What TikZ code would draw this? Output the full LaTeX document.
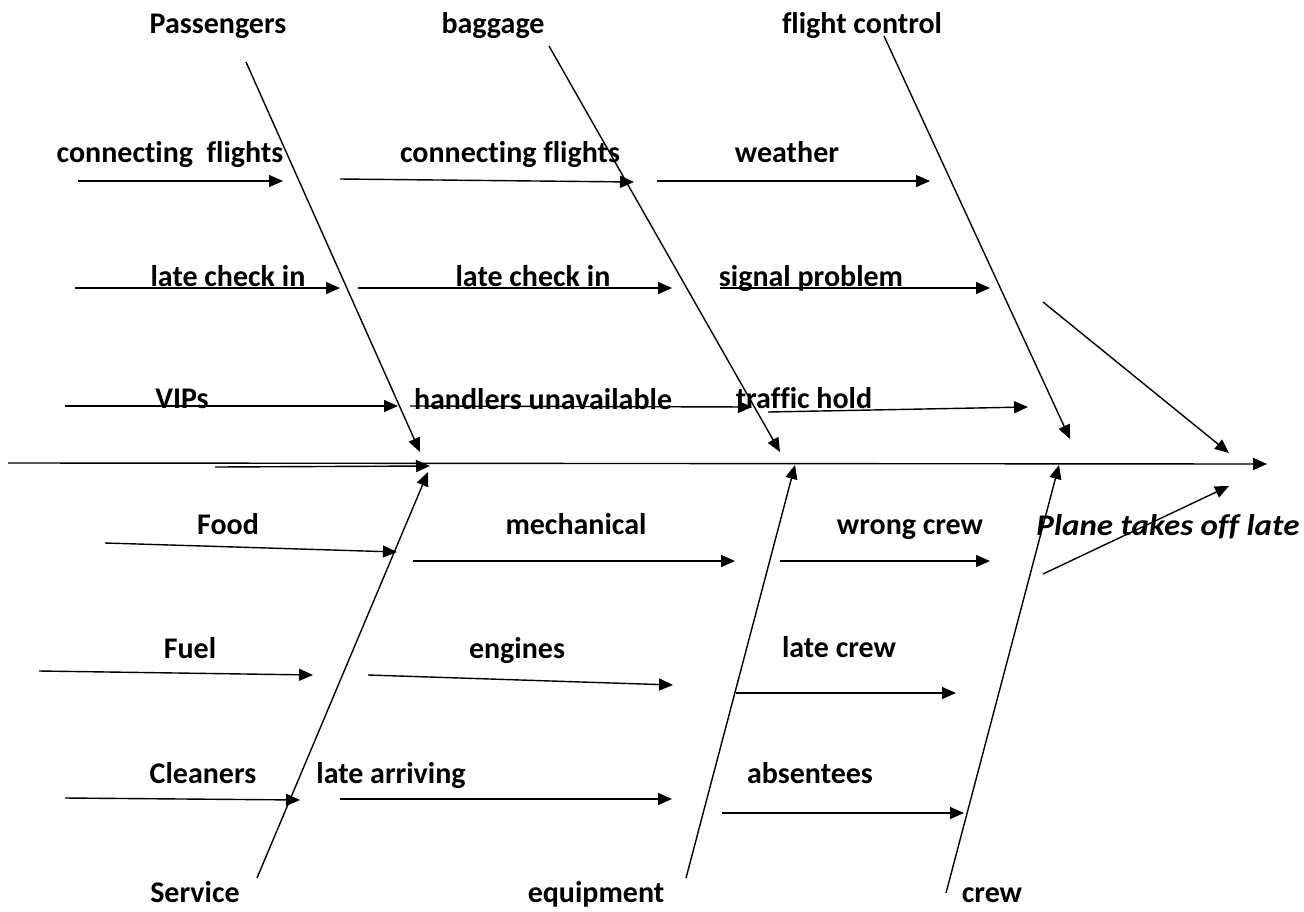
\documentclass[tikz,border=0pt]{standalone}
\usepackage{fontspec}
\setmainfont{Carlito}[Ligatures={NoCommon}]
\usetikzlibrary{arrows.meta}
\begin{document}
\begin{tikzpicture}[x=1pt,y=-1pt,
  arr/.style={line width=1.4pt,-{Triangle[length=14pt,width=12pt]}},
  lbl/.style={anchor=base,inner sep=0pt,font=\fontsize{30}{32}\selectfont\bfseries},
  eff/.style={anchor=base,inner sep=0pt,xscale=1.1,font=\fontsize{30}{32}\selectfont\bfseries\itshape}]
\useasboundingbox (0,0) rectangle (1304,911);
% coordinates
\coordinate (S0) at (8,463);   \coordinate (S1) at (1267,464);
\coordinate (SS0) at (215,467); \coordinate (SS1) at (430,466);
\coordinate (P0) at (246,62);  \coordinate (P1) at (420,452);
\coordinate (B0) at (549,46);  \coordinate (B1) at (780,452);
\coordinate (F0) at (884,36);  \coordinate (F1) at (1070,439);
\coordinate (M0) at (1043,302); \coordinate (M1) at (1229,453);
\coordinate (V0) at (257,878); \coordinate (V1) at (428,472);
\coordinate (E0) at (686,878); \coordinate (E1) at (795,465);
\coordinate (C0) at (946,893); \coordinate (C1) at (1059,465);
\coordinate (N0) at (1043,574); \coordinate (N1) at (1229,486);
% rows
\coordinate (a1) at (78,181);  \coordinate (a2) at (283,181);
\coordinate (b1) at (340,179); \coordinate (b2) at (634,182);
\coordinate (c1) at (657,181); \coordinate (c2) at (930,181);
\coordinate (d1) at (75,288);  \coordinate (d2) at (340,288);
\coordinate (e1) at (358,288); \coordinate (e2) at (672,288);
\coordinate (f1) at (720,288); \coordinate (f2) at (990,288);
\coordinate (g1) at (65,406);  \coordinate (g2) at (398,406);
\coordinate (h1) at (410,406); \coordinate (h2) at (752,407);
\coordinate (i1) at (768,412); \coordinate (i2) at (1028,407);
\coordinate (j1) at (105,543); \coordinate (j2) at (397,552);
\coordinate (k1) at (413,561); \coordinate (k2) at (735,561);
\coordinate (l1) at (780,561); \coordinate (l2) at (990,561);
\coordinate (m1) at (39,671);  \coordinate (m2) at (313,675);
\coordinate (n1) at (368,675); \coordinate (n2) at (673,685);
\coordinate (o1) at (736,693); \coordinate (o2) at (956,693);
\coordinate (p1) at (65,798);  \coordinate (p2) at (300,800);
\coordinate (q1) at (340,799); \coordinate (q2) at (672,799);
\coordinate (r1) at (722,813); \coordinate (r2) at (964,813);
% labels
\node[lbl] (tPass) at (218,33) {Passengers};
\node[lbl] (tBag) at (493,33) {baggage};
\node[lbl] (tFC) at (862,33) {flight control};
\node[lbl] (t1a) at (170,162) {connecting\ \ flights};
\node[lbl] (t1b) at (510,162) {connecting flights};
\node[lbl] (t1c) at (787,162) {weather};
\node[lbl] (t2a) at (228,286) {late check in};
\node[lbl] (t2b) at (533,286) {late check in};
\node[lbl] (t2c) at (811,286) {signal problem};
\node[lbl] (t3a) at (182,408) {VIPs};
\node[lbl] (t3b) at (543,409) {handlers unavailable};
\node[lbl] (t3c) at (804,408) {traffic hold};
\node[lbl] (t4a) at (228,534) {Food};
\node[lbl] (t4b) at (576,534) {mechanical};
\node[lbl] (t4c) at (910,534) {wrong crew};
\node[eff] (tEff) at (1168,535) {Plane takes off late};
\node[lbl] (t5a) at (190,658) {Fuel};
\node[lbl] (t5b) at (517,658) {engines};
\node[lbl] (t5c) at (839,657) {late crew};
\node[lbl] (t6a) at (203,783) {Cleaners};
\node[lbl] (t6b) at (391,783) {late arriving};
\node[lbl] (t6c) at (810,783) {absentees};
\node[lbl] (tSv) at (195,902) {Service};
\node[lbl] (tEq) at (596,902) {equipment};
\node[lbl] (tCr) at (992,902) {crew};
% spine
\draw[arr] (S0) -- (S1);
\draw[arr] (SS0) -- (SS1);
% bones
\draw[arr] (P0) -- (P1);
\draw[arr] (B0) -- (B1);
\draw[arr] (F0) -- (F1);
\draw[arr] (M0) -- (M1);
\draw[arr] (V0) -- (V1);
\draw[arr] (E0) -- (E1);
\draw[arr] (C0) -- (C1);
\draw[arr] (N0) -- (N1);
% causes
\foreach \u/\v in {a1/a2,b1/b2,c1/c2,d1/d2,e1/e2,f1/f2,g1/g2,h1/h2,i1/i2,j1/j2,k1/k2,l1/l2,m1/m2,n1/n2,o1/o2,p1/p2,q1/q2,r1/r2}
  \draw[arr] (\u) -- (\v);
\end{tikzpicture}
\end{document}
